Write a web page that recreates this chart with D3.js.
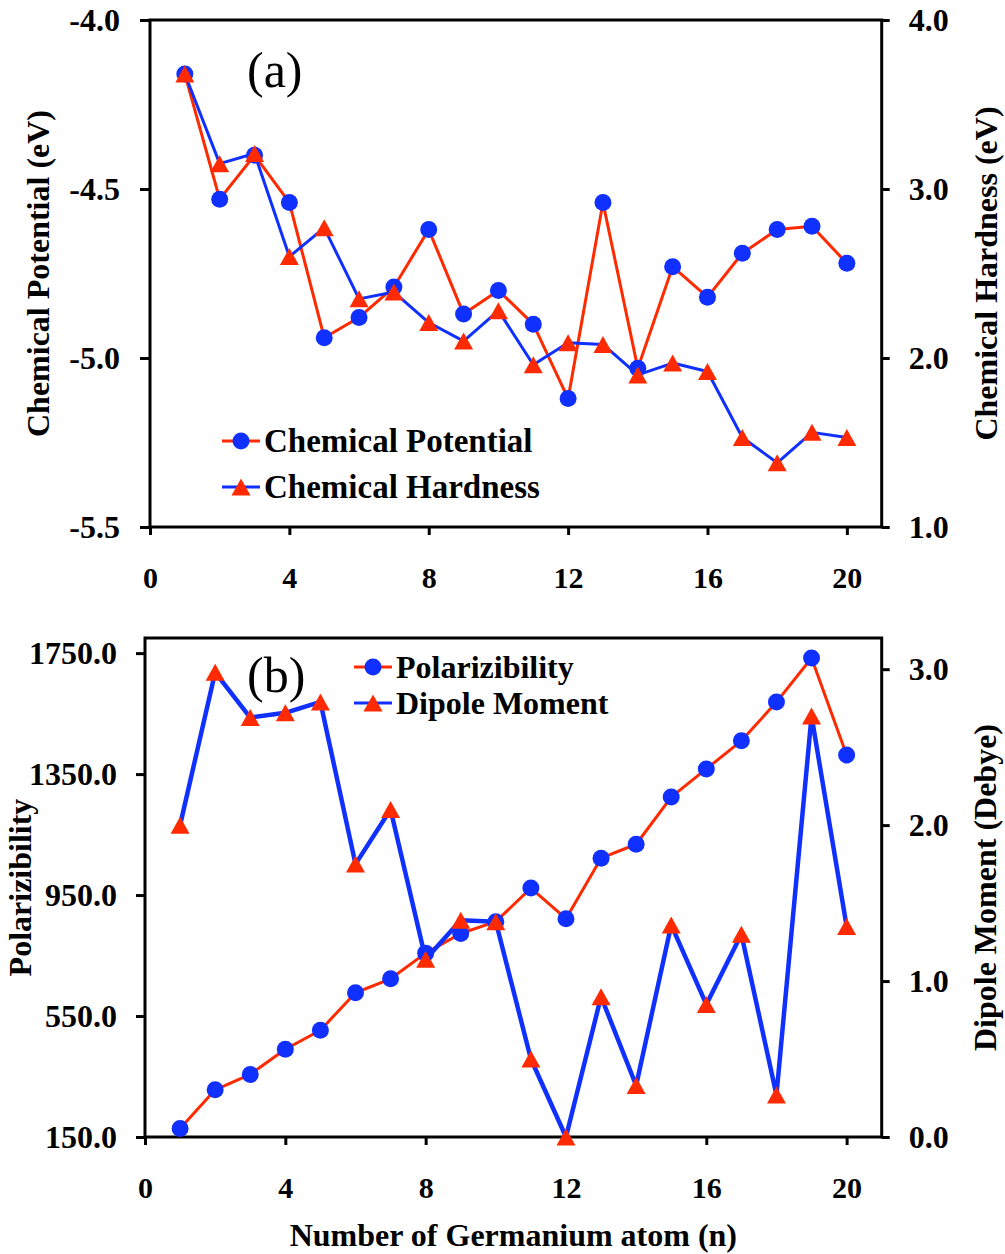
<!DOCTYPE html>
<html>
<head>
<meta charset="utf-8">
<script src="https://cdn.jsdelivr.net/npm/d3@7"></script>
<style>
  body { margin: 0; background: #fff; }
  svg { display: block; font-family: "Liberation Serif", "Times New Roman", serif; }
  .tick line { stroke: #000; stroke-width: 3; }
  .tick text { font-weight: bold; fill: #000; font-family: "Liberation Serif", "Times New Roman", serif; }
</style>
</head>
<body>
<svg width="1005" height="1254"></svg>
<script>
// number of Ge atoms (x)
var nAtoms = [1, 2, 3, 4, 5, 6, 7, 8, 9, 10, 11, 12, 13, 14, 15, 16, 17, 18, 19, 20];

// panel (a)
var chemPotential = [-4.16, -4.53, -4.40, -4.54, -4.94, -4.88, -4.79, -4.62, -4.87, -4.80,
                     -4.90, -5.12, -4.54, -5.03, -4.73, -4.82, -4.69, -4.62, -4.61, -4.72];
var chemHardness = [3.68, 3.15, 3.21, 2.60, 2.77, 2.35, 2.39, 2.21, 2.10, 2.28,
                    1.96, 2.09, 2.08, 1.90, 1.97, 1.92, 1.53, 1.38, 1.56, 1.53];

// panel (b)
var polarizibility = [178, 306, 357, 440, 503, 627, 673, 758, 823, 862,
                      973, 872, 1072, 1118, 1274, 1367, 1460, 1588, 1734, 1413];
var dipoleMoment = [2.00, 2.98, 2.69, 2.72, 2.79, 1.75, 2.10, 1.14, 1.39, 1.38,
                    0.50, 0.00, 0.90, 0.33, 1.36, 0.85, 1.30, 0.27, 2.70, 1.35];

var xTicks = [0, 4, 8, 12, 16, 20];
var potTicks = [-5.5, -5.0, -4.5, -4.0];
var hardTicks = [1.0, 2.0, 3.0, 4.0];
var polTicks = [150, 550, 950, 1350, 1750];
var dipTicks = [0, 1, 2, 3];

var BLUE = '#1030ff';
var RED = '#ff2a00';
var SERIF = '"Liberation Serif", "Times New Roman", serif';

var svg = d3.select('svg');
svg.append('rect').attr('width', 1005).attr('height', 1254).attr('fill', '#fff');

// plain hyphen instead of the unicode minus d3 uses
var fmt1 = function(v) { return v.toFixed(1); };

var triPath = function(w, h) {
  return 'M0,' + (-h / 2) + 'L' + (w / 2) + ',' + (h / 2) + 'L' + (-w / 2) + ',' + (h / 2) + 'Z';
};

// draws one line series with its markers
const drawSeries = function(g, xs, ys, values, lineColor, lineWidth, marker) {
  var pts = nAtoms.map(function(n, i) { return [xs(n), ys(values[i])]; });
  g.append('path')
    .attr('d', d3.line()(pts))
    .attr('fill', 'none')
    .attr('stroke', lineColor)
    .attr('stroke-width', lineWidth)
    .attr('stroke-linejoin', 'round');
  if (marker == 'circle') {
    g.selectAll(null).data(pts).enter().append('circle')
      .attr('cx', function(p) { return p[0]; })
      .attr('cy', function(p) { return p[1]; })
      .attr('r', 8.5)
      .attr('fill', BLUE);
  } else {
    g.selectAll(null).data(pts).enter().append('path')
      .attr('d', triPath(19, 17))
      .attr('transform', function(p) { return 'translate(' + p[0] + ',' + p[1] + ')'; })
      .attr('fill', RED);
  }
};

const drawLegend = function(g, x, rows, rowY, fontSize) {
  rows.forEach(function(r, i) {
    var y = rowY[i];
    g.append('line').attr('x1', x).attr('x2', x + 38).attr('y1', y).attr('y2', y)
      .attr('stroke', r.line).attr('stroke-width', 3);
    if (r.marker == 'circle') {
      g.append('circle').attr('cx', x + 19).attr('cy', y).attr('r', 8.5).attr('fill', BLUE);
    } else {
      g.append('path').attr('d', triPath(19, 17)).attr('transform', 'translate(' + (x + 19) + ',' + y + ')').attr('fill', RED);
    }
    g.append('text').text(r.label)
      .attr('x', x + 42).attr('y', y + fontSize * 0.33)
      .attr('font-size', fontSize).attr('font-weight', 'bold');
  });
};

const drawPanel = function(p) {
  var g = svg.append('g');
  var x = d3.scaleLinear().domain([0, 21]).range([p.left, p.right]);
  var yL = d3.scaleLinear().domain(p.leftDomain).range([p.bottom, p.top]);
  var yR = d3.scaleLinear().domain(p.rightDomain).range([p.bottom, p.top]);

  var ax = g.append('g').attr('transform', 'translate(0,' + p.bottom + ')')
    .call(d3.axisBottom(x).tickValues(xTicks).tickFormat(d3.format('d')).tickSize(8).tickPadding(32).tickSizeOuter(0));
  var al = g.append('g').attr('transform', 'translate(' + p.left + ',0)')
    .call(d3.axisLeft(yL).tickValues(p.leftTicks).tickFormat(fmt1).tickSize(p.tickL).tickPadding(p.padL).tickSizeOuter(0));
  var ar = g.append('g').attr('transform', 'translate(' + p.right + ',0)')
    .call(d3.axisRight(yR).tickValues(p.rightTicks).tickFormat(fmt1).tickSize(8).tickPadding(19).tickSizeOuter(0));
  ax.attr('font-family', SERIF).attr('font-size', 30);
  al.attr('font-family', SERIF).attr('font-size', 32);
  ar.attr('font-family', SERIF).attr('font-size', 32);
  g.selectAll('.domain').remove();

  g.append('rect')
    .attr('x', p.left).attr('y', p.top)
    .attr('width', p.right - p.left).attr('height', p.bottom - p.top)
    .attr('fill', 'none').attr('stroke', '#000').attr('stroke-width', 3);

  drawSeries(g, x, yL, p.leftValues, RED, 3, 'circle');
  drawSeries(g, x, yR, p.rightValues, BLUE, p.blueWidth, 'triangle');

  g.append('text').text(p.tag)
    .attr('x', 247).attr('y', p.tagY)
    .attr('font-size', 50);

  var mid = (p.top + p.bottom) / 2;
  g.append('text').text(p.leftTitle)
    .attr('transform', 'translate(' + p.leftTitleX + ',' + mid + ') rotate(-90)')
    .attr('text-anchor', 'middle').attr('font-size', 32).attr('font-weight', 'bold');
  g.append('text').text(p.rightTitle)
    .attr('transform', 'translate(' + p.rightTitleX + ',' + mid + ') rotate(-90)')
    .attr('text-anchor', 'middle').attr('font-size', 32).attr('font-weight', 'bold');

  drawLegend(g, p.legendX, p.legendRows, p.legendY, p.legendFont);
  return x;
};

drawPanel({
  left: 150, right: 881.7, top: 20, bottom: 527,
  leftDomain: [-5.5, -4.0], rightDomain: [1.0, 4.0],
  leftTicks: potTicks, rightTicks: hardTicks,
  tickL: 10, padL: 20,
  leftValues: chemPotential, rightValues: chemHardness, blueWidth: 3,
  tag: '(a)', tagY: 87,
  leftTitle: 'Chemical Potential (eV)', leftTitleX: 49,
  rightTitle: 'Chemical Hardness (eV)', rightTitleX: 997,
  legendX: 222, legendY: [441, 487], legendFont: 33,
  legendRows: [
    { label: 'Chemical Potential', line: RED, marker: 'circle' },
    { label: 'Chemical Hardness', line: BLUE, marker: 'triangle' }
  ]
});

var xb = drawPanel({
  left: 145, right: 881.7, top: 638, bottom: 1137,
  leftDomain: [150, 1800], rightDomain: [0, 3.2],
  leftTicks: polTicks, rightTicks: dipTicks,
  tickL: 9, padL: 19,
  leftValues: polarizibility, rightValues: dipoleMoment, blueWidth: 4.5,
  tag: '(b)', tagY: 692,
  leftTitle: 'Polarizibility', leftTitleX: 31,
  rightTitle: 'Dipole Moment (Debye)', rightTitleX: 996,
  legendX: 354, legendY: [667, 703], legendFont: 32,
  legendRows: [
    { label: 'Polarizibility', line: RED, marker: 'circle' },
    { label: 'Dipole Moment', line: BLUE, marker: 'triangle' }
  ]
});

svg.append('text').text('Number of Germanium atom (n)')
  .attr('x', (xb.range()[0] + xb.range()[1]) / 2).attr('y', 1246)
  .attr('text-anchor', 'middle').attr('font-size', 32).attr('font-weight', 'bold');
</script>
</body>
</html>
